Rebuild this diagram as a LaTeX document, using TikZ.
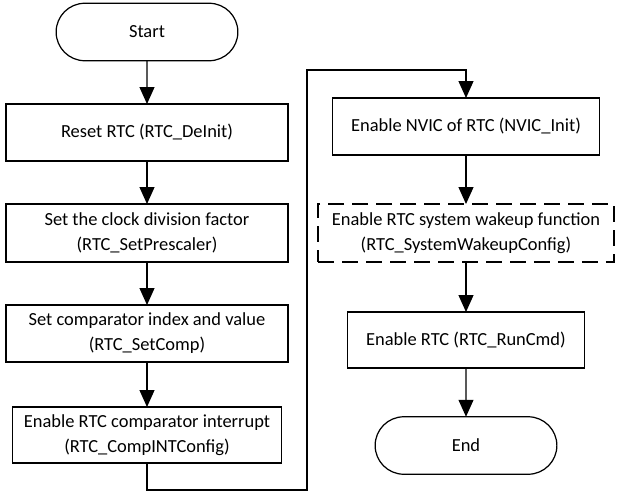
\documentclass[tikz,border=0pt]{standalone}
\usepackage{fontspec}
\setmainfont{Carlito}
\usetikzlibrary{arrows.meta,shapes.misc}
\begin{document}
\begin{tikzpicture}[x=0.02cm,y=-0.02cm,line width=0.7pt,
		every node/.style={font=\fontsize{10.5}{14.2}\selectfont,align=center,outer sep=0pt},
		stepbox/.style={draw,rectangle,minimum height=1.14cm},
		terminal/.style={draw,rounded rectangle,minimum width=3.87cm,minimum height=1.15cm},
		flow/.style={-{Triangle[length=0.34cm,width=0.3cm]}}]
			\useasboundingbox (0,0) rectangle (622,497);
			% Shapes
			\coordinate (A) at (147,32);
			\coordinate (B) at (147,132.5);
			\coordinate (C) at (147,233);
			\coordinate (D) at (147,333.5);
			\coordinate (E) at (147,435);
			\coordinate (P) at (466,126.5);
			\coordinate (Q) at (466,233);
			\coordinate (R) at (466,340);
			\coordinate (S) at (466,445.5);
			
			\coordinate (X) at (307,490);
			\coordinate (Y) at (307,70);
			
			% Labels
			\node[terminal] (start) at (A) {Start};
			\node[stepbox,minimum width=5.64cm] (reset) at (B) {Reset RTC (RTC\_DeInit)};
			\node[stepbox,minimum width=5.64cm,minimum height=1.16cm] (prescaler) at (C) {Set the clock division factor\\(RTC\_SetPrescaler)};
			\node[stepbox,minimum width=5.64cm] (comp) at (D) {Set comparator index and value\\(RTC\_SetComp)};
			\node[stepbox,minimum width=5.38cm,minimum height=1.12cm] (compint) at (E) {Enable RTC comparator interrupt\\(RTC\_CompINTConfig)};
			
			\node[stepbox,minimum width=5.34cm] (nvic) at (P) {Enable NVIC of RTC (NVIC\_Init)};
			\node[stepbox,dash pattern=on 0.32cm off 0.16cm,minimum width=5.92cm,minimum height=1.16cm] (wakeup) at (Q) {Enable RTC system wakeup function\\(RTC\_SystemWakeupConfig)};
			\node[stepbox,minimum width=4.74cm,minimum height=1.12cm] (run) at (R) {Enable RTC (RTC\_RunCmd)};
			\node[terminal] (end) at (S) {End};
			
			% Arrows
			\foreach \from/\to in {start/reset, reset/prescaler, prescaler/comp, comp/compint, nvic/wakeup, wakeup/run, run/end} {
				\draw[flow] (\from) -- (\to);
			}
			\draw[flow] (compint.south) |- (X) -- (Y) -| (nvic.north);
		\end{tikzpicture}
\end{document}
